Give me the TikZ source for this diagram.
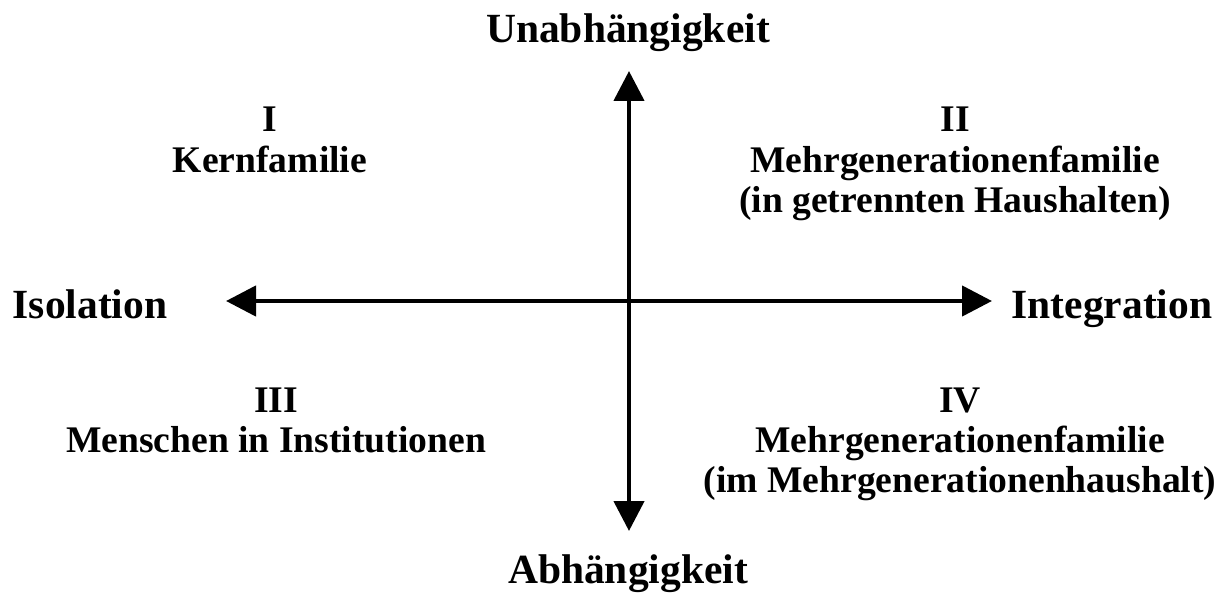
\documentclass[tikz,border=0pt]{standalone}
\usepackage{fontspec}
\setmainfont{Liberation Serif}
\usepackage{tikz}
\usetikzlibrary{arrows.meta, positioning}

\tikzset{
  axislabel/.style={black,inner sep=0pt,anchor=base,font=\fontsize{41.5}{48}\selectfont\bfseries},
  quadline/.style={black,inner sep=2pt,text height=27pt,text depth=9pt,font=\fontsize{37.6}{40}\selectfont\bfseries},
  axisline/.style={line width=4.5pt,{Triangle[length=30pt,width=30pt]}-{Triangle[length=30pt,width=30pt]}}
}

\begin{document}
\begin{tikzpicture}[x=1pt,y=-1pt]%
\useasboundingbox (0,0) rectangle (1229,599);%
% axes
\coordinate (top) at (629,71);%
\coordinate (bottom) at (629,531);%
\coordinate (left) at (226,301);%
\coordinate (right) at (992,301);%
\draw[axisline] (bottom) -- (top);%
\draw[axisline] (left) -- (right);%
% axis labels
\node[axislabel] (unab) at (628,43) {Unabhängigkeit};%
\node[axislabel] (abh) at (628,583) {Abhängigkeit};%
\node[axislabel] (iso) at (90,318) {Isolation};%
\node[axislabel] (integ) at (1112,318) {Integration};%
% quadrants
\node[quadline,anchor=base] (q1) at (270,132) {I};%
\node[quadline,below=0pt of q1] (q1a) {Kernfamilie};%
\node[quadline,anchor=base] (q2) at (955,132) {II};%
\node[quadline,below=0pt of q2] (q2a) {Mehrgenerationenfamilie};%
\node[quadline,below=0pt of q2a] (q2b) {(in getrennten Haushalten)};%
\node[quadline,anchor=base] (q3) at (276,412) {III};%
\node[quadline,below=0pt of q3] (q3a) {Menschen in Institutionen};%
\node[quadline,anchor=base] (q4) at (960,412) {IV};%
\node[quadline,below=0pt of q4] (q4a) {Mehrgenerationenfamilie};%
\node[quadline,below=0pt of q4a] (q4b) {(im Mehrgenerationenhaushalt)};%
\end{tikzpicture}
\end{document}
